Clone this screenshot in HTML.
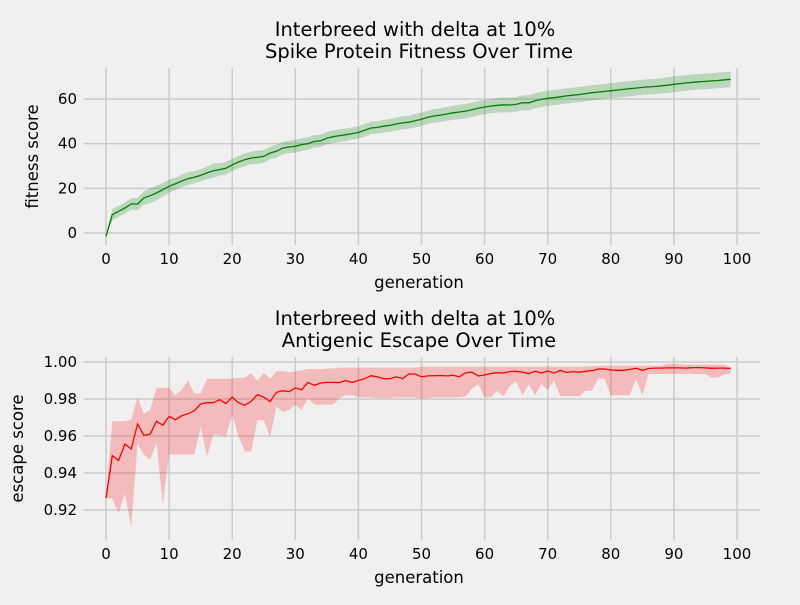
<!DOCTYPE html>
<html><head><meta charset="utf-8"><style>
body{margin:0;background:#f0f0f0;}
svg text{font-family:"DejaVu Sans","Liberation Sans",sans-serif;fill:#000;}
</style></head><body>
<svg id="chart" width="800" height="600" xmlns="http://www.w3.org/2000/svg">
<rect width="800" height="600" fill="#f0f0f0"/>
<g id="top"></g>
<g id="bot"></g>
</svg>
<script>
const gens = Array.from({length:100},(_,i)=>i);
const fitnessMean = [-1.5,8.2,9.7,11.2,13,13,15.7,16.7,17.9,19.4,20.9,22,23.3,24.3,25,25.8,26.9,27.9,28.4,29,30.5,31.8,32.8,33.6,33.9,34.3,35.8,36.6,38,38.5,38.8,39.6,40,41,41.3,42.5,43.1,43.6,44,44.5,45,46,47,47.3,47.8,48.2,48.8,49.3,49.6,50.3,50.9,51.8,52.4,52.8,53.3,53.8,54.2,54.6,55.2,55.9,56.4,56.8,57.2,57.4,57.3,57.6,58.3,58.3,59.2,59.8,60.3,60.6,61,61.4,61.7,62,62.4,62.8,63.1,63.4,63.7,64,64.3,64.6,64.9,65.2,65.4,65.6,65.9,66.2,66.6,66.9,67.2,67.5,67.7,67.9,68.1,68.3,68.6,68.8];
const fitnessHalf = [0.3,2.6,2.5,2.5,2.6,2.8,3,3.3,3.3,3,2.9,2.8,2.8,2.9,2.7,2.7,2.8,3.2,2.8,2.8,2.8,2.8,2.9,2.8,3,2.8,2.8,2.9,2.8,2.8,2.9,2.9,2.8,2.8,2.8,2.8,2.8,2.8,2.8,2.8,2.8,2.8,2.8,2.8,2.8,2.8,2.9,2.9,2.9,3,3,3,3.1,3.1,3.1,3.1,3.2,3.2,3.2,3.2,3.2,3.2,3.3,3.3,3.3,3.3,3.3,3.4,3.4,3.4,3.4,3.4,3.4,3.4,3.4,3.4,3.4,3.4,3.4,3.4,3.4,3.4,3.4,3.4,3.4,3.4,3.4,3.4,3.4,3.5,3.5,3.5,3.5,3.5,3.5,3.5,3.5,3.5,3.5,3.5];
const escapeMean = [0.9265,0.9494,0.9468,0.9557,0.953,0.9665,0.9604,0.961,0.968,0.9658,0.9706,0.9688,0.971,0.972,0.9737,0.9773,0.978,0.978,0.9796,0.9775,0.981,0.978,0.9766,0.9787,0.9823,0.981,0.9786,0.9836,0.9845,0.984,0.986,0.985,0.989,0.9874,0.9886,0.989,0.989,0.9888,0.990,0.989,0.990,0.991,0.9926,0.992,0.991,0.991,0.992,0.991,0.9935,0.9935,0.992,0.9925,0.9926,0.9927,0.9925,0.9928,0.992,0.9942,0.9945,0.9925,0.993,0.9938,0.9942,0.994,0.9948,0.995,0.9945,0.9937,0.995,0.994,0.9952,0.994,0.9955,0.9943,0.9948,0.9945,0.995,0.9953,0.9962,0.9962,0.9957,0.9955,0.9955,0.996,0.9966,0.9955,0.9965,0.9967,0.9967,0.9968,0.9968,0.9968,0.9967,0.997,0.997,0.9968,0.9966,0.9967,0.9967,0.9965];
const escapeUpper = [0.9265,0.968,0.968,0.968,0.969,0.981,0.972,0.974,0.986,0.986,0.986,0.982,0.985,0.990,0.983,0.983,0.991,0.991,0.991,0.991,0.991,0.9915,0.9915,0.994,0.990,0.994,0.991,0.995,0.995,0.9945,0.995,0.9955,0.9962,0.9962,0.996,0.9965,0.9965,0.997,0.997,0.997,0.997,0.997,0.997,0.997,0.997,0.997,0.997,0.997,0.997,0.997,0.9975,0.9975,0.9975,0.9975,0.9975,0.9975,0.9975,0.9975,0.9975,0.9975,0.9975,0.9975,0.9975,0.9975,0.9975,0.9975,0.9975,0.9975,0.9975,0.9975,0.9975,0.9975,0.9975,0.9975,0.9975,0.9975,0.9975,0.9978,0.9978,0.998,0.998,0.998,0.998,0.998,0.998,0.998,0.998,0.998,0.998,0.999,0.999,0.9988,0.9985,0.9985,0.9985,0.9985,0.9985,0.9985,0.9985,0.9975];
const escapeLower = [0.9265,0.9261,0.9184,0.9288,0.9108,0.9557,0.950,0.9472,0.9562,0.9232,0.950,0.950,0.950,0.950,0.950,0.9649,0.949,0.9607,0.9607,0.9595,0.9715,0.9598,0.9517,0.9517,0.9685,0.9685,0.9593,0.976,0.973,0.974,0.977,0.974,0.9805,0.977,0.977,0.977,0.977,0.9805,0.982,0.982,0.981,0.981,0.981,0.9805,0.9805,0.9805,0.981,0.981,0.981,0.981,0.980,0.9805,0.981,0.981,0.981,0.981,0.981,0.9815,0.9855,0.988,0.981,0.981,0.9845,0.9815,0.987,0.9895,0.982,0.988,0.982,0.988,0.985,0.990,0.9815,0.9815,0.9815,0.9815,0.9845,0.9845,0.991,0.991,0.982,0.982,0.982,0.982,0.991,0.982,0.9935,0.9935,0.9935,0.9935,0.9935,0.9935,0.9935,0.9935,0.9935,0.9935,0.9915,0.9915,0.9935,0.9935,0.9915];
const xTicks = [0,10,20,30,40,50,60,70,80,90,100];
const topTicks = [0,20,40,60];
const botTicks = [0.92,0.94,0.96,0.98,1.00];

const NS="http://www.w3.org/2000/svg";
function mk(parent,tag,attrs){const e=document.createElementNS(NS,tag);for(const k in attrs)e.setAttribute(k,attrs[k]);parent.appendChild(e);return e;}
const X = v => 106 + (v-0)*(737-106)/100;

function panel(g, o){
  const Y = v => o.y0px + (v-o.v0)*(o.y1px-o.y0px)/(o.v1-o.v0);
  xTicks.forEach(t=>{
    const l=mk(g,'line',{x1:X(t),x2:X(t),y1:o.top,y2:o.bottom,stroke:'#cbcbcb','stroke-width':1.5});
    
    
    const tx=mk(g,'text',{x:X(t),y:o.bottom+19,'text-anchor':'middle','font-size':15});
    tx.textContent=t;
    
    
  });
  o.ticks.forEach(t=>{
    const l=mk(g,'line',{x1:84,x2:760,y1:Y(t),y2:Y(t),stroke:'#cbcbcb','stroke-width':1.5});
    
    
    const tx=mk(g,'text',{x:77,y:Y(t)+5,'text-anchor':'end','font-size':15});
    tx.textContent=o.fmt(t);
    
    
  });
  let d='';
  gens.forEach((x,i)=>{d+=(i?'L':'M')+X(x).toFixed(1)+','+Y(o.up[i]).toFixed(1);});
  for(let i=gens.length-1;i>=0;i--)d+='L'+X(gens[i]).toFixed(1)+','+Y(o.lo[i]).toFixed(1);
  const band=mk(g,'path',{d:d+'Z',fill:o.fill,'fill-opacity':0.22,stroke:'none'});
  
  
  const pts=gens.map((x,i)=>X(x).toFixed(1)+','+Y(o.mean[i]).toFixed(1)).join(' ');
  const ln=mk(g,'polyline',{points:pts,fill:'none',stroke:o.color,'stroke-width':1.3});
  
  
  const t1=mk(g,'text',{x:415,y:o.top-32,'text-anchor':'middle','font-size':19.5});
  t1.textContent='Interbreed with delta at 10%';
  
  
  const t2=mk(g,'text',{x:419,y:o.top-10,'text-anchor':'middle','font-size':19.5});
  t2.textContent=o.title;
  
  
  const xl=mk(g,'text',{x:419,y:o.bottom+43,'text-anchor':'middle','font-size':16.5});
  xl.textContent='generation';
  
  
  const cy=(o.top+o.bottom)/2;
  const yl=mk(g,'text',{x:0,y:0,'text-anchor':'middle','font-size':16.5,transform:`translate(${o.ylx},${cy}) rotate(-90)`});
  yl.textContent=o.ylabel;
  
  
}
const upTop=fitnessMean.map((m,i)=>m+fitnessHalf[i]);
const loTop=fitnessMean.map((m,i)=>m-fitnessHalf[i]);
panel(document.getElementById('top'),{top:68,bottom:245,v0:0,v1:60,y0px:233,y1px:99,ticks:topTicks,fmt:t=>t,mean:fitnessMean,up:upTop,lo:loTop,color:'#008000',fill:'#008000',title:'Spike Protein Fitness Over Time',ylabel:'fitness score',ylx:38});
panel(document.getElementById('bot'),{top:357,bottom:540,v0:0.92,v1:1.0,y0px:510,y1px:362,ticks:botTicks,fmt:t=>t.toFixed(2),mean:escapeMean,up:escapeUpper,lo:escapeLower,color:'#ff0000',fill:'#ff0000',title:'Antigenic Escape Over Time',ylabel:'escape score',ylx:23});
</script>
</body></html>
